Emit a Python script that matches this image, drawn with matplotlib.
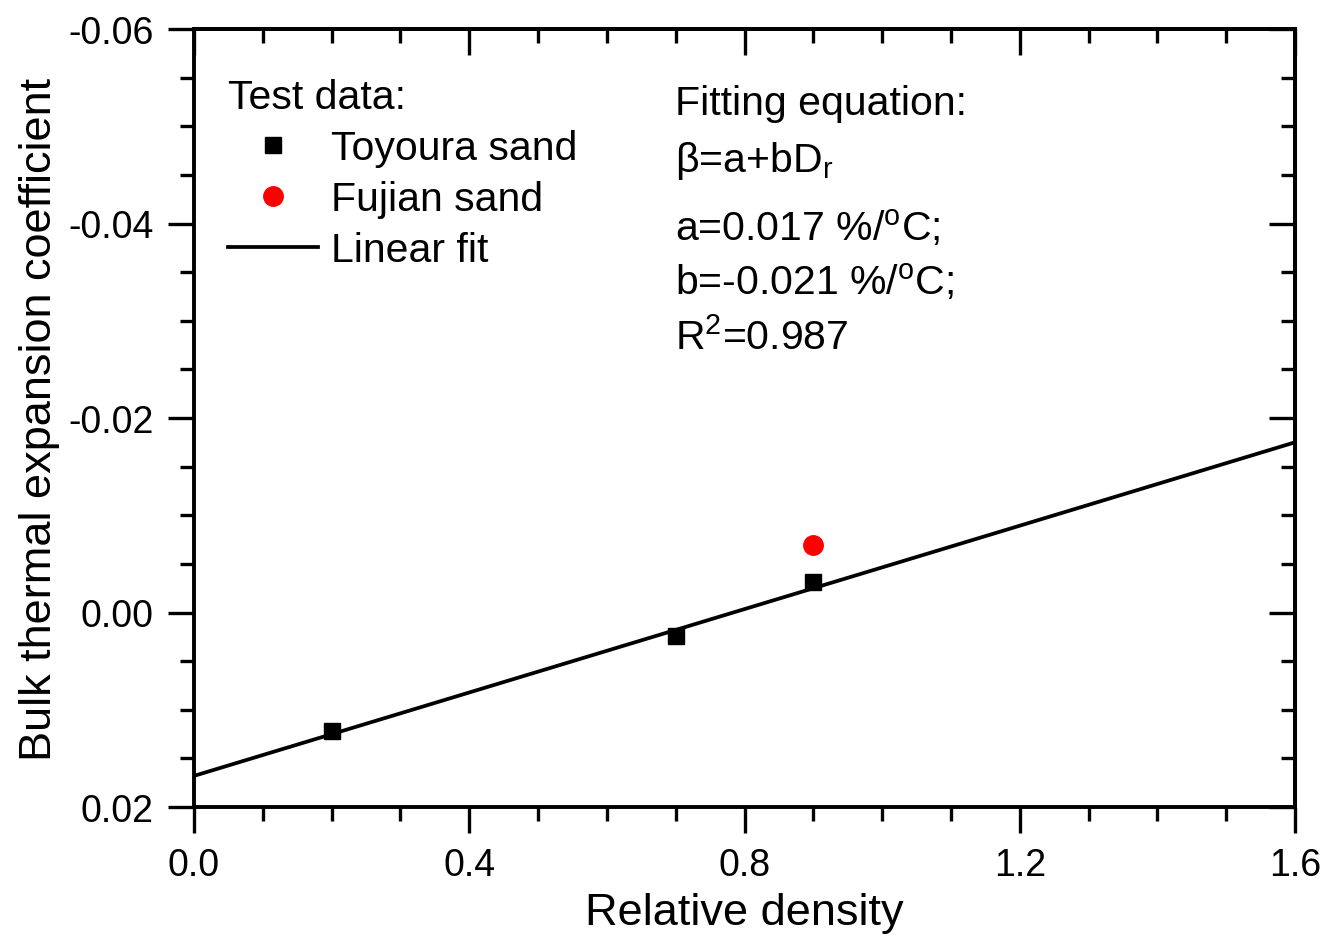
import matplotlib
matplotlib.use('Agg')
import matplotlib.pyplot as plt
from matplotlib.ticker import MultipleLocator, FormatStrFormatter

plt.rcParams['font.family'] = ['Liberation Sans', 'DejaVu Sans']
plt.rcParams['mathtext.fontset'] = 'custom'
plt.rcParams['mathtext.rm'] = 'Liberation Sans'
plt.rcParams['axes.unicode_minus'] = False

# test data
dr_toyoura = [0.2, 0.7, 0.9]
beta_toyoura = [0.0122, 0.0024, -0.0031]
dr_fujian = [0.9]
beta_fujian = [-0.0069]

# linear fit line end points
fit_x = [0.0, 1.6]
fit_y = [0.0168, -0.0175]

x_major = [0.0, 0.4, 0.8, 1.2, 1.6]
y_major = [-0.06, -0.04, -0.02, 0.00, 0.02]

fig = plt.figure(figsize=(13.22, 9.37), dpi=100)
ax = fig.add_axes([194 / 1322, 1 - 808 / 937, 1101 / 1322, 778 / 937])

ax.plot(fit_x, fit_y, color='black', linewidth=2.7, label='Linear fit', zorder=2)
ax.plot(dr_toyoura, beta_toyoura, 's', color='black', markersize=12,
        label='Toyoura sand', zorder=3)
ax.plot(dr_fujian, beta_fujian, 'o', color='#ff0000', markersize=14,
        label='Fujian sand', zorder=3)

ax.set_xlim(0, 1.6)
ax.set_ylim(0.02, -0.06)

ax.set_xticks(x_major)
ax.set_yticks(y_major)
ax.xaxis.set_minor_locator(MultipleLocator(0.1))
ax.yaxis.set_minor_locator(MultipleLocator(0.005))
ax.xaxis.set_major_formatter(FormatStrFormatter('%.1f'))
ax.yaxis.set_major_formatter(FormatStrFormatter('%.2f'))

ax.tick_params(which='both', direction='out', top=False, right=False,
               width=2.4, labelsize=27, pad=10)
ax.tick_params(which='major', length=19)
ax.tick_params(which='minor', length=10)
for sp in ax.spines.values():
    sp.set_linewidth(2.8)

# top and right axes with inward ticks, no labels
top = ax.secondary_xaxis('top')
top.set_xticks(x_major)
top.xaxis.set_minor_locator(MultipleLocator(0.1))
top.tick_params(which='both', direction='in', labeltop=False, width=2.4)
top.tick_params(which='major', length=19)
top.tick_params(which='minor', length=10)
top.spines['top'].set_linewidth(2.8)

right = ax.secondary_yaxis('right')
right.set_yticks(y_major)
right.yaxis.set_minor_locator(MultipleLocator(0.005))
right.tick_params(which='both', direction='in', labelright=False, width=2.4)
right.tick_params(which='major', length=19)
right.tick_params(which='minor', length=10)
right.spines['right'].set_linewidth(2.8)

ax.set_xlabel('Relative density', fontsize=32.5, labelpad=6)
ax.set_ylabel('Bulk thermal expansion coefficient', fontsize=32.5, labelpad=6)

# legend with title
handles, labels = ax.get_legend_handles_labels()
order = [1, 2, 0]
leg = ax.legend([handles[i] for i in order], [labels[i] for i in order],
                title='Test data:', loc='upper left',
                bbox_to_anchor=(0.031, 0.937), frameon=False, fontsize=29.5,
                title_fontsize=29.5, handlelength=2.2, handletextpad=0.3,
                labelspacing=0.32, borderpad=0, borderaxespad=0,
                alignment='left')

# fitting equation text
eq_lines = [
    ('Fitting equation:', 0.891),
    ('β=a+bD$_\\mathregular{r}$', 0.818),
    ('a=0.017 %/$^\\mathregular{o}$C;', 0.730),
    ('b=-0.021 %/$^\\mathregular{o}$C;', 0.660),
    ('R$^\\mathregular{2}$=0.987', 0.589),
]
for txt, yy in eq_lines:
    ax.text(0.437, yy, txt, transform=ax.transAxes, fontsize=29.5,
            ha='left', va='baseline')

fig.savefig('out.png', dpi=100)
